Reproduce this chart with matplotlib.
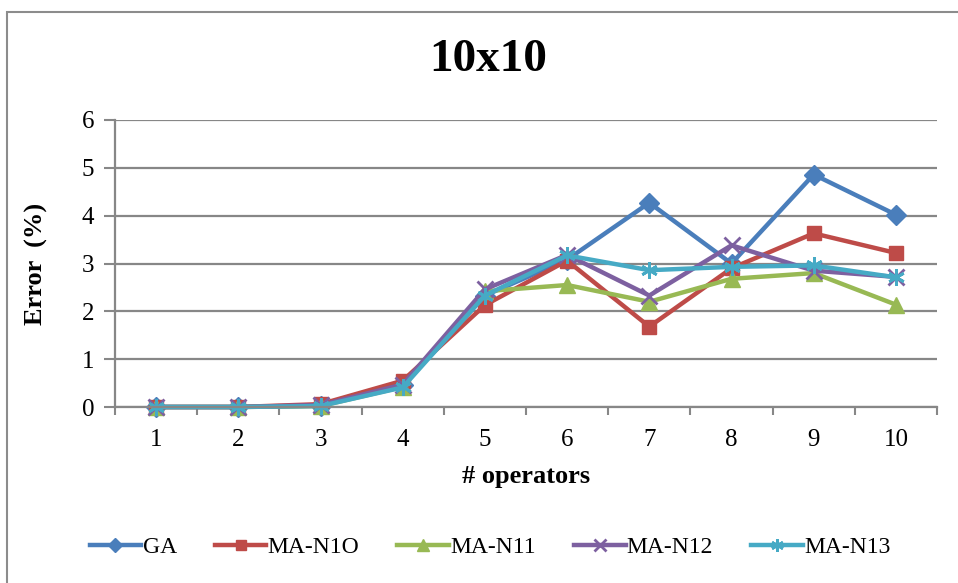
import numpy as np
import matplotlib
matplotlib.use("Agg")
import matplotlib.pyplot as plt
from matplotlib.patches import Rectangle

plt.rcParams['font.family'] = ['Liberation Serif', 'DejaVu Serif']

operators = [1, 2, 3, 4, 5, 6, 7, 8, 9, 10]
ga = [0.0, 0.0, 0.03, 0.45, 2.33, 3.08, 4.27, 3.0, 4.86, 4.02]
ma_n10 = [0.0, 0.0, 0.06, 0.55, 2.13, 3.06, 1.68, 2.9, 3.63, 3.22]
ma_n11 = [0.0, 0.0, 0.02, 0.42, 2.42, 2.55, 2.2, 2.68, 2.8, 2.14]
ma_n12 = [0.0, 0.0, 0.04, 0.47, 2.46, 3.18, 2.33, 3.38, 2.85, 2.72]
ma_n13 = [0.0, 0.0, 0.02, 0.41, 2.33, 3.17, 2.86, 2.93, 2.96, 2.71]

series = [
    ("GA", ga, "#4A7EBB", "D", 10, 1.0),
    ("MA-N1O", ma_n10, "#BE4B48", "s", 10, 1.0),
    ("MA-N11", ma_n11, "#98B954", "^", 11, 1.0),
    ("MA-N12", ma_n12, "#7D60A0", "x", 11, 2.0),
    ("MA-N13", ma_n13, "#46AAC5", (6, 2, 0), 12, 2.0),
]

W, H = 958, 583
fig = plt.figure(figsize=(W / 100, H / 100), dpi=100)

# outer chart border (runs off the right and bottom edges)
fig.patches.append(Rectangle((7 / W, -0.1), 1.2, 1 - 12 / H + 0.1,
                             transform=fig.transFigure, fill=False,
                             edgecolor="#8C8C8C", lw=1.5))

ax = fig.add_axes([115 / W, (H - 407) / H, (937 - 115) / W, (407 - 120) / H])

grid_c = "#878787"
for name, vals, col, mk, ms, mew in series:
    ax.plot(operators, vals, color=col, lw=3.2, marker=mk, ms=ms,
            mec=col, mfc=col, mew=mew, label=name, solid_joinstyle="round",
            clip_on=False)

ax.set_xlim(0.5, 10.5)
ax.set_ylim(0, 6)
ax.set_yticks(range(0, 7))
ax.yaxis.grid(True, color=grid_c, lw=1.6)
ax.set_axisbelow(True)

ax.set_xticks(operators)
ax.set_xticks(np.arange(0.5, 11, 1), minor=True)
ax.tick_params(axis="x", which="major", length=0, pad=16, labelsize=18)
ax.tick_params(axis="x", which="minor", length=6, width=1.5, color=grid_c,
               direction="out")
ax.tick_params(axis="y", length=8, width=1.5, color=grid_c, pad=7,
               labelsize=18)

for s in ("top", "right"):
    ax.spines[s].set_visible(False)
for s in ("left", "bottom"):
    ax.spines[s].set_color(grid_c)
    ax.spines[s].set_linewidth(1.6)

fig.text(488 / W, 1 - 60 / H, "10x10", fontsize=34, fontweight="bold",
         ha="center", va="center")
ax.set_xlabel("# operators", fontsize=19, fontweight="bold", labelpad=10)
ax.set_ylabel("Error  (%)", fontsize=19, fontweight="bold", labelpad=24)

ax.legend(loc="center", bbox_to_anchor=((490 - 115) / 822, -0.49), ncol=5,
          frameon=False, fontsize=17, handlelength=2.2, columnspacing=1.6,
          handletextpad=0.05, markerscale=0.75)

fig.savefig("out.png", dpi=100)
